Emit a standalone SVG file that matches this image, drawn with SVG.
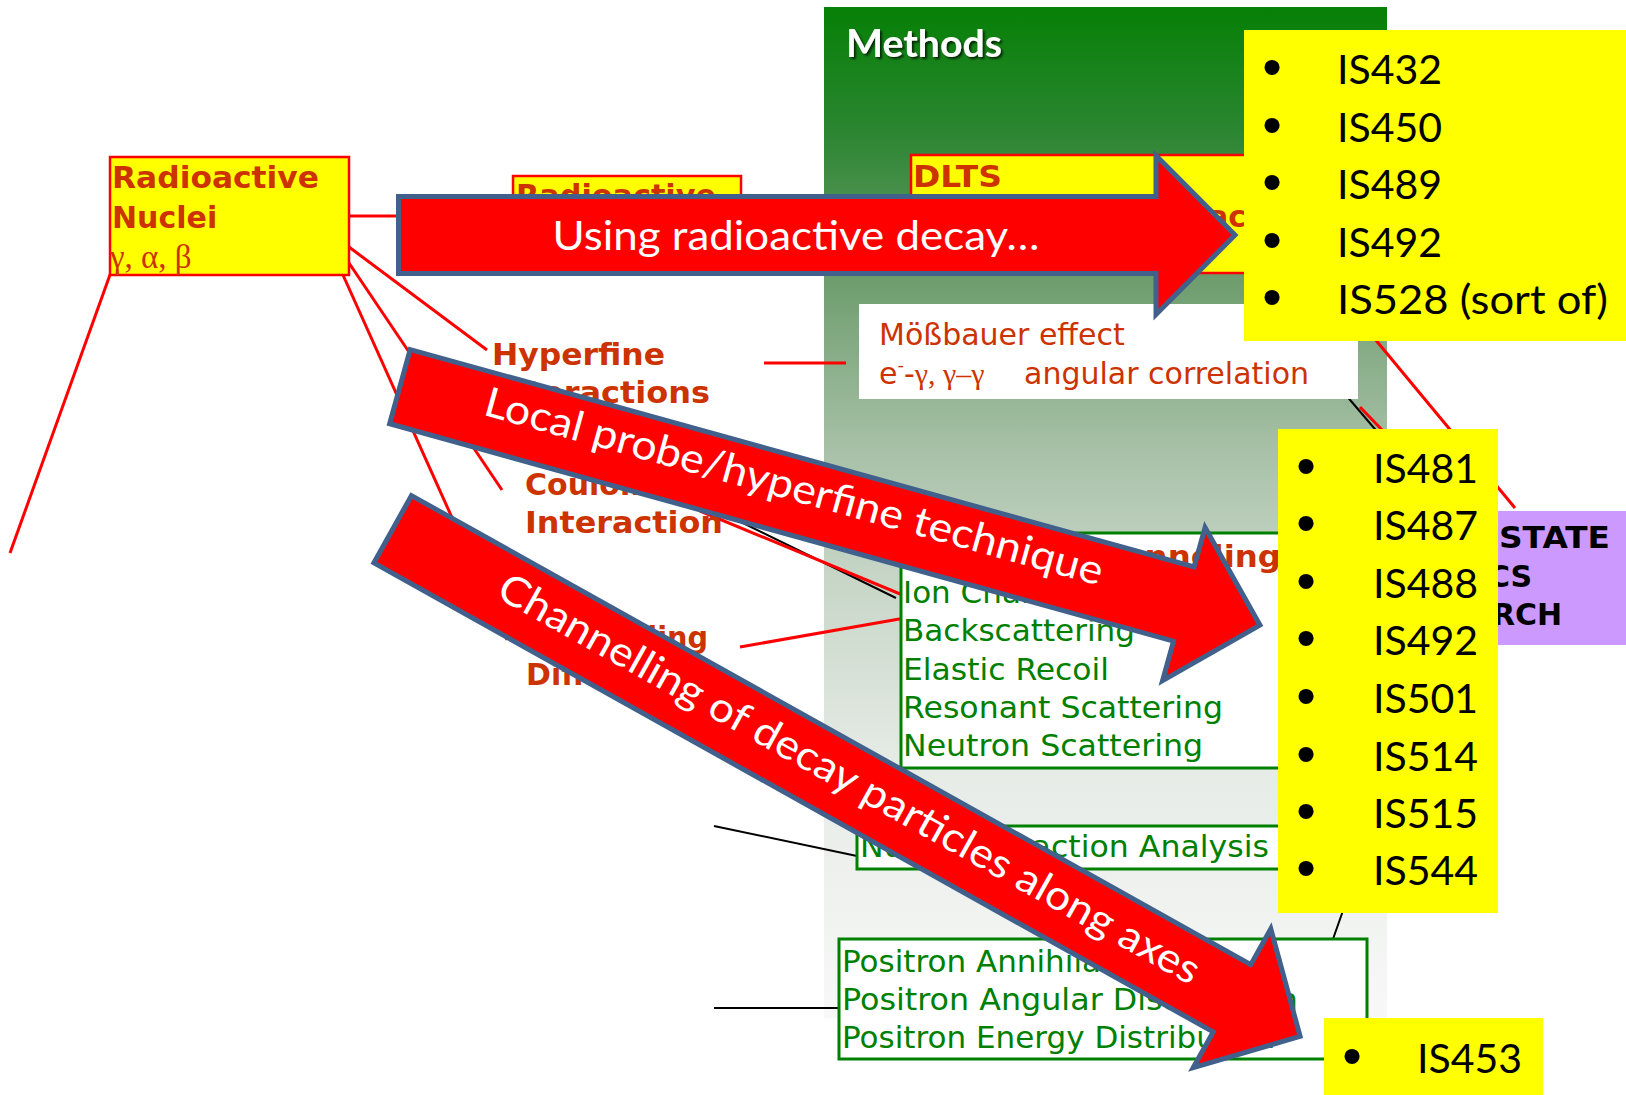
<svg xmlns="http://www.w3.org/2000/svg" width="1626" height="1095" viewBox="0 0 1626 1095">
<defs>
<linearGradient id="pg" x1="0" y1="0" x2="0" y2="1">
<stop offset="0" stop-color="#068006"/>
<stop offset="0.12" stop-color="#2A8530"/>
<stop offset="0.27" stop-color="#6E9D6E"/>
<stop offset="0.43" stop-color="#A5BFA5"/>
<stop offset="0.56" stop-color="#C6D5C6"/>
<stop offset="0.75" stop-color="#E6EBE6"/>
<stop offset="1" stop-color="#F8F8F8"/>
</linearGradient>
<filter id="sh" x="-10%" y="-20%" width="130%" height="150%">
<feDropShadow dx="2" dy="2" stdDeviation="1.2" flood-color="#000" flood-opacity="0.7"/>
</filter>
</defs>
<style>
.rl{stroke:#FF0000;stroke-width:3;fill:none}
.bl{stroke:#000;stroke-width:2;fill:none}
.ybox{fill:#FFFF00;stroke:#FF0000;stroke-width:2.5}
.gbox{fill:#FFFFFF;stroke:#008000;stroke-width:3}
.lab{font-family:"DejaVu Sans",Verdana,sans-serif;font-weight:bold;font-size:30px;fill:#CC3300}
.grn{font-family:"DejaVu Sans",Verdana,sans-serif;font-size:31px;fill:#008000}
.mos{font-family:"DejaVu Sans",Verdana,sans-serif;font-size:30px;fill:#CC3300}
.gr{font-family:"Liberation Serif",serif}
.arr{fill:#FF0000;stroke:#41608C;stroke-width:5;stroke-linejoin:miter}
.at{font-family:Lato,"Open Sans",sans-serif;font-size:41px;fill:#FFFFFF}
.isb{fill:#FFFF00}
.ist{font-family:Lato,"Open Sans",sans-serif;font-size:41px;fill:#000}
.bul{font-family:"Liberation Sans",Arial,sans-serif;font-size:56px;fill:#000;text-anchor:middle}
.ssp{font-family:"DejaVu Sans",Verdana,sans-serif;font-weight:bold;font-size:30px;fill:#000}
</style>
<rect width="1626" height="1095" fill="#FFFFFF"/>

<g id="methods-panel">
<rect x="824" y="7" width="563" height="1011" fill="url(#pg)"/>
<text x="846" y="57" font-family="Lato,'Open Sans',sans-serif" font-weight="bold" font-size="38" fill="#FFFFFF" textLength="156" lengthAdjust="spacingAndGlyphs" filter="url(#sh)">Methods</text>
</g>

<g id="connectors">
<path class="rl" d="M349,216 H513"/>
<path class="rl" d="M349,247 L487,350"/>
<path class="rl" d="M349,263 L502,490"/>
<path class="rl" d="M343,275 L507,640"/>
<path class="rl" d="M111,272 L10,553"/>
<path class="rl" d="M764,363 H846"/>
<path class="bl" d="M700,502 L896,598"/>
<path class="rl" d="M700,511 L905,596"/>
<path class="rl" d="M740,647 L905,618"/>
<path class="rl" d="M1326,280 L1515,508"/>
<path class="bl" d="M1345,394 L1380,435"/>
<path class="rl" d="M1360,407 L1385,433"/>
<path class="bl" d="M714,826 L857,856"/>
<path class="bl" d="M714,1008 H839"/>
<path class="bl" d="M1345,905 L1333,939"/>
</g>

<g id="radioactive-nuclei">
<rect class="ybox" x="110" y="157" width="239" height="118"/>
<text class="lab" x="112" y="188" textLength="207" lengthAdjust="spacingAndGlyphs">Radioactive</text>
<text class="lab" x="112" y="228">Nuclei</text>
<text x="110" y="268" font-family="'Liberation Serif',serif" font-size="33" fill="#CC3300">γ, α, β</text>
</g>

<g id="radioactive-2">
<rect class="ybox" x="513" y="176" width="228" height="90"/>
<text class="lab" x="516" y="206" textLength="200" lengthAdjust="spacingAndGlyphs">Radioactive</text>
</g>

<g id="hyperfine">
<text class="lab" x="492" y="365" textLength="173" lengthAdjust="spacingAndGlyphs">Hyperfine</text>
<text class="lab" x="492" y="403" textLength="218" lengthAdjust="spacingAndGlyphs">Interactions</text>
</g>

<g id="coulomb">
<text class="lab" x="525" y="495">Coulomb</text>
<text class="lab" x="525" y="533" textLength="198" lengthAdjust="spacingAndGlyphs">Interaction</text>
</g>

<g id="channelling-label">
<text class="lab" x="526" y="648" textLength="182" lengthAdjust="spacingAndGlyphs">Channeling</text>
<text class="lab" x="526" y="685">Diffraction</text>
</g>

<g id="dlts">
<rect class="ybox" x="911" y="155" width="360" height="118"/>
<text class="lab" x="913" y="187" textLength="89" lengthAdjust="spacingAndGlyphs">DLTS</text>
<text class="lab" x="1208" y="227">ac</text>
</g>

<g id="mossbauer">
<rect x="859" y="304" width="499" height="95" fill="#FFFFFF"/>
<text class="mos" x="879" y="345">Mößbauer effect</text>
<text class="mos" x="879" y="384">e<tspan font-size="18" dy="-13">-</tspan><tspan dy="13">-</tspan><tspan class="gr">γ, γ–γ</tspan><tspan x="1024">angular correlation</tspan></text>
</g>

<g id="channeling-box">
<rect class="gbox" x="901" y="533" width="385" height="235"/>
<text class="lab" x="903" y="567" textLength="378" lengthAdjust="spacingAndGlyphs">Emission Channeling</text>
<text class="grn" x="903" y="603">Ion Channeling</text>
<text class="grn" x="903" y="641" textLength="232" lengthAdjust="spacingAndGlyphs">Backscattering</text>
<text class="grn" x="903" y="680" textLength="206" lengthAdjust="spacingAndGlyphs">Elastic Recoil</text>
<text class="grn" x="903" y="718" textLength="320" lengthAdjust="spacingAndGlyphs">Resonant Scattering</text>
<text class="grn" x="903" y="756" textLength="300" lengthAdjust="spacingAndGlyphs">Neutron Scattering</text>
</g>

<g id="nra-box">
<rect class="gbox" x="857" y="826" width="430" height="43"/>
<text class="grn" x="860" y="857" textLength="409" lengthAdjust="spacingAndGlyphs">Nuclear Reaction Analysis</text>
</g>

<g id="positron-box">
<rect class="gbox" x="839" y="939" width="528" height="120"/>
<text class="grn" x="842" y="972">Positron Annihilation</text>
<text class="grn" x="842" y="1010" textLength="456" lengthAdjust="spacingAndGlyphs">Positron Angular Distribution</text>
<text class="grn" x="842" y="1048">Positron Energy Distribution</text>
</g>

<g id="solid-state">
<rect x="1380" y="511" width="246" height="134" fill="#CC99FF"/>
<text class="ssp" x="1499" y="548" textLength="111" lengthAdjust="spacingAndGlyphs">STATE</text>
<text class="ssp" x="1488" y="587">CS</text>
<text class="ssp" x="1492" y="625">RCH</text>
</g>

<g id="arrow-decay">
<path class="arr" transform="translate(396,235)" d="M2.5,-38.5 H760 V-79.5 L839,0 L760,79.5 V38.5 H2.5 Z"/>
<text class="at" x="796" y="250" text-anchor="middle" textLength="487" lengthAdjust="spacingAndGlyphs">Using radioactive decay…</text>
</g>

<g id="arrow-hyperfine" transform="translate(397.5,386) rotate(15.5)">
<path class="arr" d="M2.5,-38.5 H816 V-79.5 L895,0 L816,79.5 V38.5 H2.5 Z"/>
<text class="at" x="409" y="5" text-anchor="middle" textLength="640" lengthAdjust="spacingAndGlyphs">Local probe/hyperfine technique</text>
</g>

<g id="arrow-channelling" transform="translate(390.5,528) rotate(29.2)">
<path class="arr" d="M2.5,-38.5 H964 V-79.5 L1042,0 L964,79.5 V38.5 H2.5 Z"/>
<text class="at" x="523" y="9" text-anchor="middle" textLength="797" lengthAdjust="spacingAndGlyphs">Channelling of decay particles along axes</text>
</g>

<g id="is-list-1">
<rect class="isb" x="1244" y="30" width="382" height="311"/>
<text class="bul" x="1272" y="86">•</text>
<text class="bul" x="1272" y="144">•</text>
<text class="bul" x="1272" y="201">•</text>
<text class="bul" x="1272" y="259">•</text>
<text class="bul" x="1272" y="316">•</text>
<text class="ist" x="1337" y="84">IS432</text>
<text class="ist" x="1337" y="142">IS450</text>
<text class="ist" x="1337" y="199">IS489</text>
<text class="ist" x="1337" y="257">IS492</text>
<text class="ist" x="1337" y="314" textLength="271" lengthAdjust="spacingAndGlyphs">IS528 (sort of)</text>
</g>

<g id="is-list-2">
<rect class="isb" x="1278" y="429" width="220" height="484"/>
<text class="bul" x="1306" y="485">•</text>
<text class="bul" x="1306" y="542">•</text>
<text class="bul" x="1306" y="600">•</text>
<text class="bul" x="1306" y="657">•</text>
<text class="bul" x="1306" y="715">•</text>
<text class="bul" x="1306" y="773">•</text>
<text class="bul" x="1306" y="830">•</text>
<text class="bul" x="1306" y="887">•</text>
<text class="ist" x="1373" y="483">IS481</text>
<text class="ist" x="1373" y="540">IS487</text>
<text class="ist" x="1373" y="598">IS488</text>
<text class="ist" x="1373" y="655">IS492</text>
<text class="ist" x="1373" y="713">IS501</text>
<text class="ist" x="1373" y="771">IS514</text>
<text class="ist" x="1373" y="828">IS515</text>
<text class="ist" x="1373" y="885">IS544</text>
</g>

<g id="is-list-3">
<rect class="isb" x="1324" y="1018" width="219" height="77"/>
<text class="bul" x="1352" y="1075">•</text>
<text class="ist" x="1417" y="1073">IS453</text>
</g>
</svg>
